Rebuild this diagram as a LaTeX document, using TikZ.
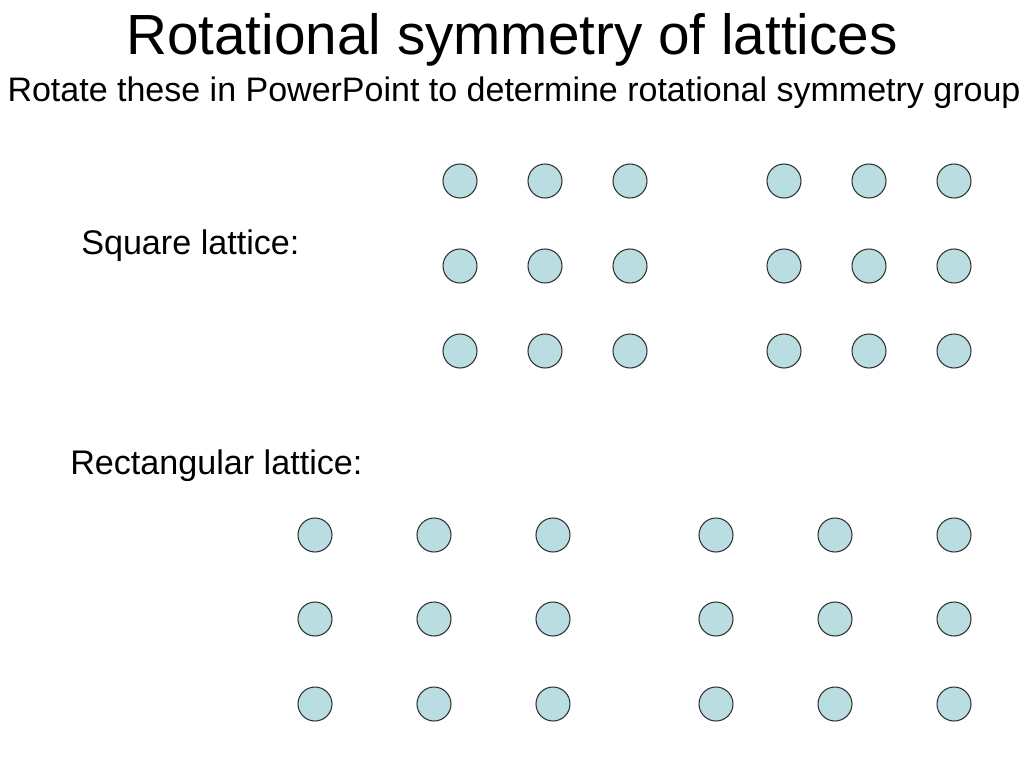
\documentclass[tikz,border=0pt]{standalone}
\usepackage{fontspec}
\setmainfont{Liberation Sans}
\definecolor{dotfill}{HTML}{B9DDE0}
\definecolor{dotline}{HTML}{333333}
\begin{document}
\begin{tikzpicture}[x=0.75pt,y=-0.75pt,
  dot/.style={circle,draw=dotline,fill=dotfill,line width=0.8pt,minimum size=25.5pt,inner sep=0pt},
  title/.style={font=\fontsize{42.5}{50}\selectfont,anchor=base,inner sep=0pt},
  sub/.style={font=\fontsize{25.5}{30}\selectfont,anchor=base,inner sep=0pt},
  lab/.style={font=\fontsize{25.6}{30}\selectfont,anchor=base west,inner sep=0pt}]
\useasboundingbox (0,0) rectangle (1024,768);
\node[title] (t) at (512,54) {Rotational symmetry of lattices};
\node[sub] (s) at (514,101) {Rotate these in PowerPoint to determine rotational symmetry group};
\node[lab] (sq) at (81,254) {Square lattice:};
\node[lab] (re) at (70,474) {Rectangular lattice:};
\foreach \x [count=\i] in {460,545,630,784,869,954}
  \foreach \y [count=\j] in {181,266,351}
    \node[dot] (s\i\j) at (\x,\y) {};
\foreach \x [count=\i] in {315,434,553,716,835,954}
  \foreach \y [count=\j] in {535,619,704}
    \node[dot] (r\i\j) at (\x,\y) {};
\end{tikzpicture}
\end{document}
